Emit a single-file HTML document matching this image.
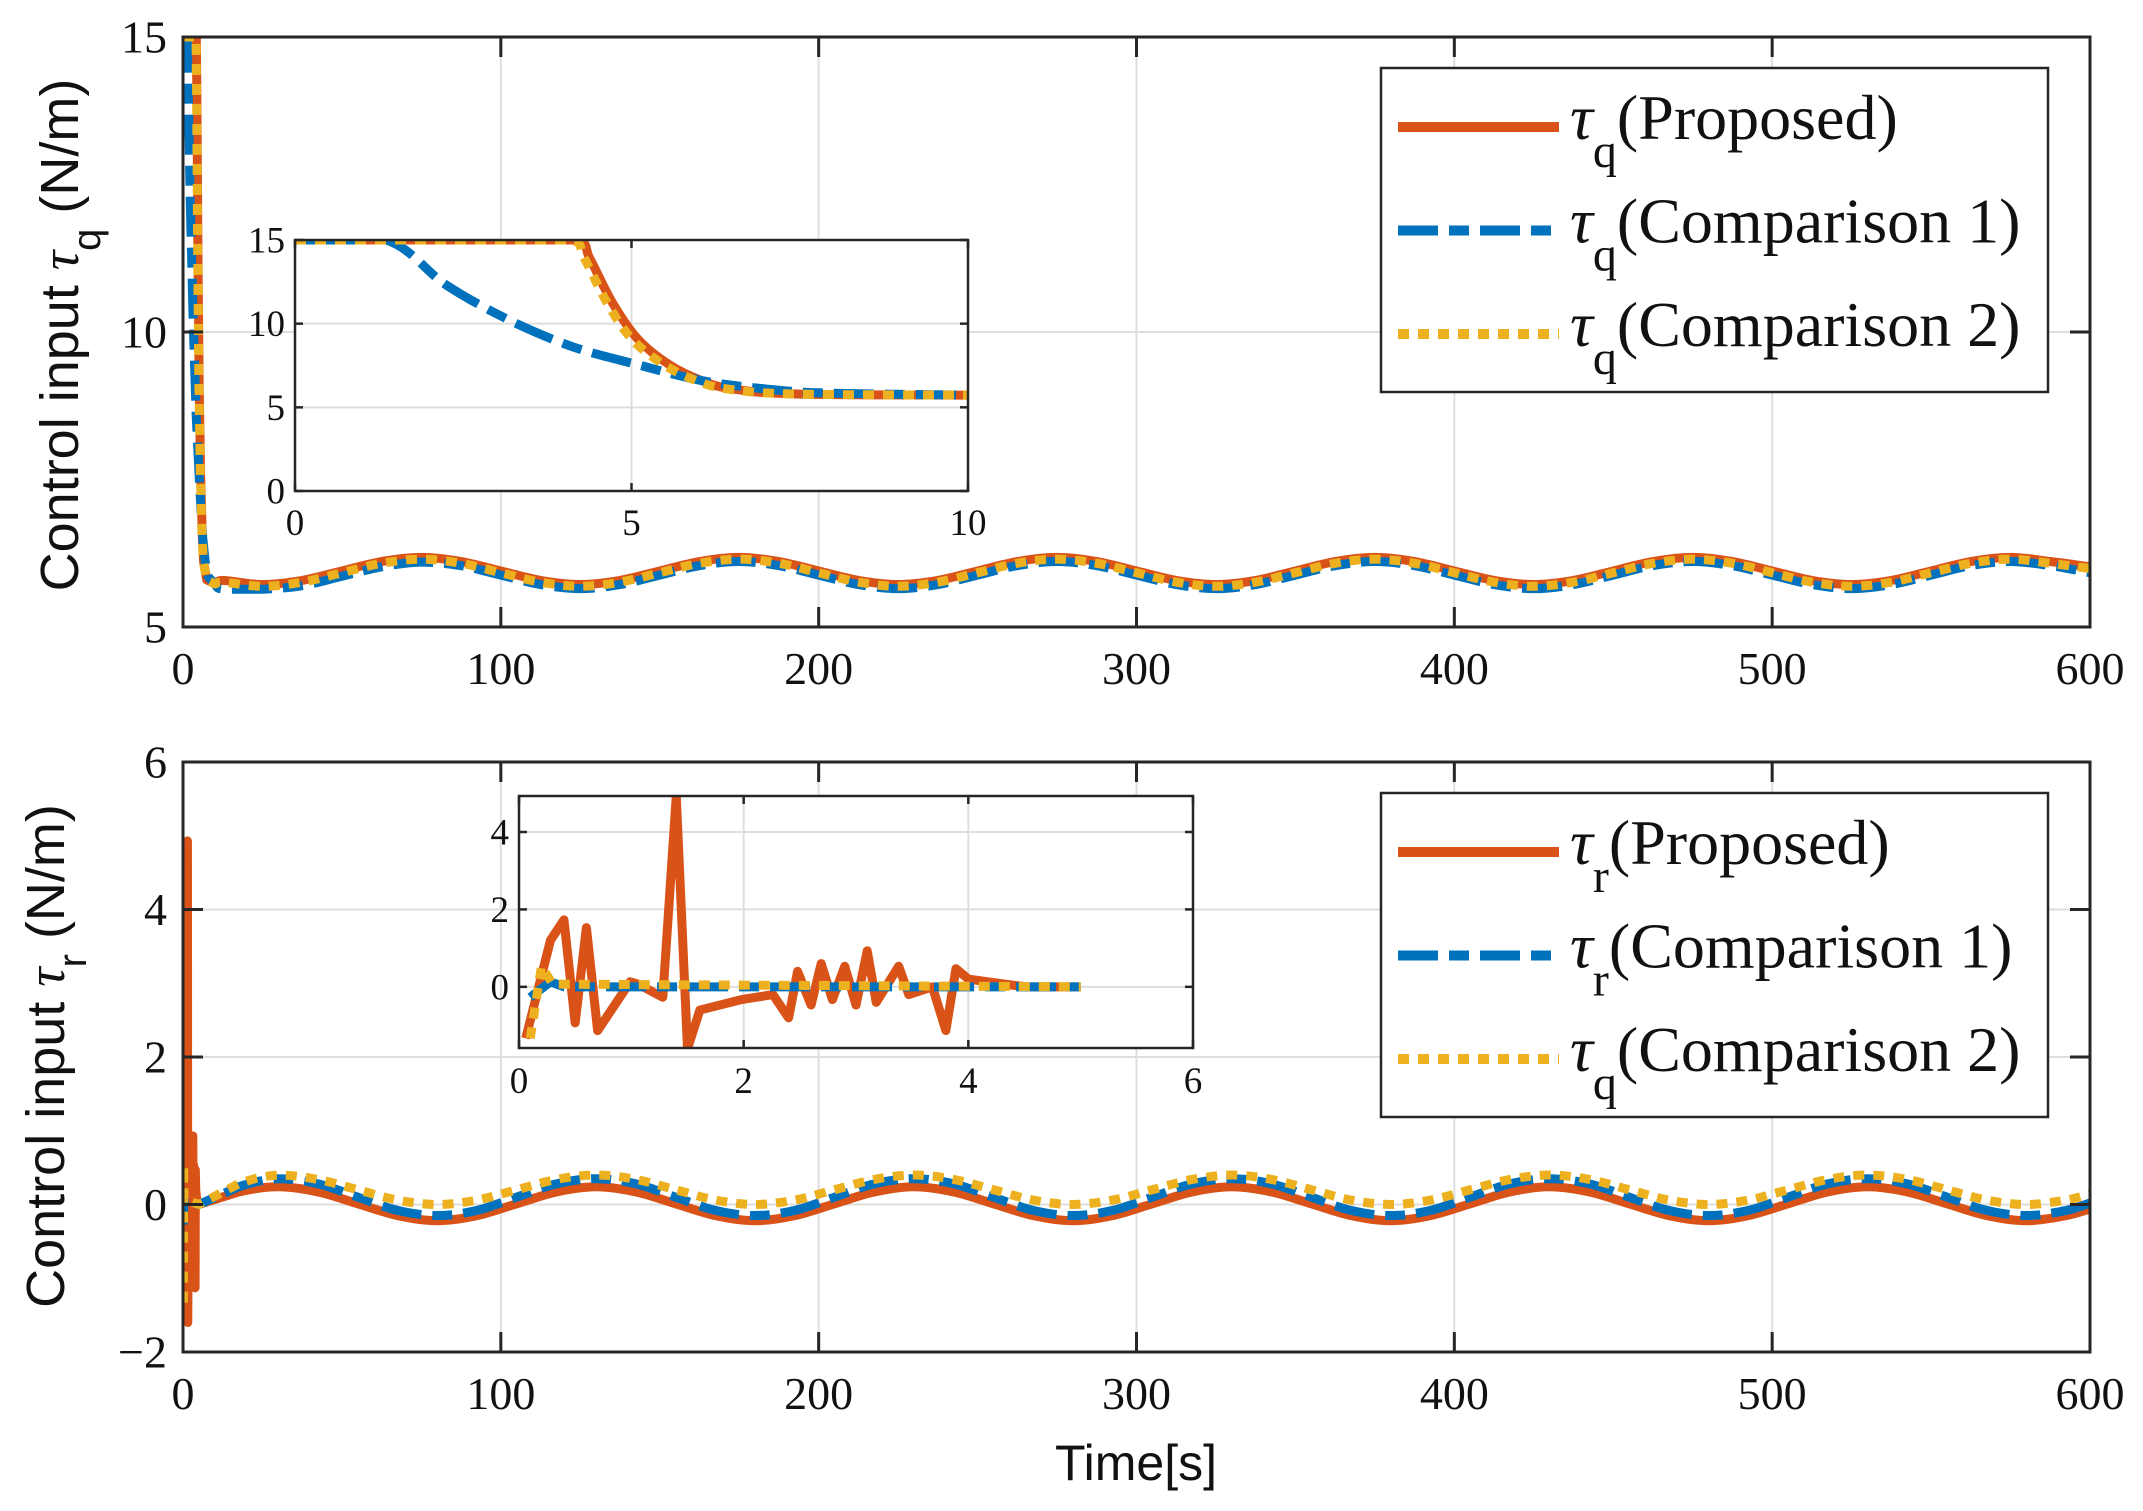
<!DOCTYPE html>
<html><head><meta charset="utf-8"><style>
html,body{margin:0;padding:0;background:#fff;}
svg{display:block;}
</style></head><body>
<svg id="fig" width="2143" height="1511" viewBox="0 0 2143 1511" xmlns="http://www.w3.org/2000/svg">
<defs>
<clipPath id="clipTop"><rect x="183" y="37" width="1907" height="590"/></clipPath>
<clipPath id="clipBot"><rect x="183" y="762" width="1907" height="590"/></clipPath>
<clipPath id="clipTopIn"><rect x="295" y="240" width="673" height="251"/></clipPath>
<clipPath id="clipBotIn"><rect x="519" y="796" width="674" height="252"/></clipPath>
</defs>
<rect width="2143" height="1511" fill="#fff"/>
<g id="root"></g>
</svg>
<script>
// ===== data: top plot (tau_q) =====
const topInT_prop = [0,4.19,4.38,4.71,5.09,5.56,6.04,6.5,7.46,10];
const topInY_prop = [15,15,13.9,11.3,9.1,7.55,6.6,6.1,5.8,5.73];
const topInT_c1 = [0,1.35,2.25,3.19,4.14,5.09,6.04,6.99,7.93,10];
const topInY_c1 = [15,15,12.3,10.2,8.6,7.55,6.6,6.1,5.85,5.73];
const topInT_c2 = [0,4.1,4.3,4.63,5.0,5.48,5.96,6.42,7.4,10];
const topInY_c2 = [15,15,13.9,11.3,9.1,7.55,6.6,6.1,5.8,5.73];
const topTailT = [12.5,25,37.5,50,62.5,75,87.5,100,112.5,125,137.5,150,162.5,175,187.5,200,212.5,225,237.5,250,262.5,275,287.5,300,312.5,325,337.5,350,362.5,375,387.5,400,412.5,425,437.5,450,462.5,475,487.5,500,512.5,525,537.5,550,562.5,575,587.5,600];
const topTail_prop = [5.79,5.72,5.79,5.95,6.11,6.18,6.11,5.95,5.79,5.72,5.79,5.95,6.11,6.18,6.11,5.95,5.79,5.72,5.79,5.95,6.11,6.18,6.11,5.95,5.79,5.72,5.79,5.95,6.11,6.18,6.11,5.95,5.79,5.72,5.79,5.95,6.11,6.18,6.11,5.95,5.79,5.72,5.79,5.95,6.11,6.18,6.11,6.02];
const topTail_c1 = [5.64,5.64,5.70,5.86,6.02,6.10,6.04,5.88,5.72,5.65,5.72,5.88,6.04,6.11,6.04,5.88,5.72,5.65,5.72,5.88,6.04,6.11,6.04,5.88,5.72,5.65,5.72,5.88,6.04,6.11,6.04,5.88,5.72,5.65,5.72,5.88,6.04,6.11,6.04,5.88,5.72,5.65,5.72,5.88,6.04,6.11,6.04,5.92];
const topTail_c2 = [5.76,5.69,5.76,5.92,6.08,6.15,6.08,5.92,5.76,5.69,5.76,5.92,6.08,6.15,6.08,5.92,5.76,5.69,5.76,5.92,6.08,6.15,6.08,5.92,5.76,5.69,5.76,5.92,6.08,6.15,6.08,5.92,5.76,5.69,5.76,5.92,6.08,6.15,6.08,5.92,5.76,5.69,5.76,5.92,6.08,6.15,6.08,5.99];
// ===== data: bottom plot (tau_r) =====
const botInT_prop = [0.06,0.28,0.4,0.5,0.6,0.7,0.99,1.06,1.28,1.4,1.5,1.61,1.98,2.26,2.4,2.48,2.6,2.69,2.79,2.9,3.0,3.1,3.18,3.38,3.47,3.68,3.8,3.89,4.0,4.32,4.52,5.0];
const botInY_prop = [-1.33,1.2,1.73,-0.93,1.53,-1.13,0.13,0.07,-0.27,4.93,-1.6,-0.6,-0.33,-0.2,-0.8,0.4,-0.47,0.6,-0.33,0.53,-0.47,0.93,-0.4,0.53,-0.2,0,-1.13,0.47,0.2,0.07,0,0];
const botInT_c1 = [0.1,0.28,0.4,5.0];
const botInY_c1 = [-0.27,0.13,0,0];
const botInT_c2 = [0.1,0.2,0.3,5.0];
const botInY_c2 = [-1.33,0.53,0.07,0];
const botTailT = [17.5,30,42.5,55,67.5,80,92.5,105,117.5,130,142.5,155,167.5,180,192.5,205,217.5,230,242.5,255,267.5,280,292.5,305,317.5,330,342.5,355,367.5,380,392.5,405,417.5,430,442.5,455,467.5,480,492.5,505,517.5,530,542.5,555,567.5,580,592.5,600];
const botTail_prop = [0.17,0.24,0.17,0.01,-0.15,-0.22,-0.15,0.01,0.17,0.24,0.17,0.01,-0.15,-0.22,-0.15,0.01,0.17,0.24,0.17,0.01,-0.15,-0.22,-0.15,0.01,0.17,0.24,0.17,0.01,-0.15,-0.22,-0.15,0.01,0.17,0.24,0.17,0.01,-0.15,-0.22,-0.15,0.01,0.17,0.24,0.17,0.01,-0.15,-0.22,-0.15,-0.06];
const botTail_c1 = [0.24,0.35,0.28,0.1,-0.08,-0.15,-0.08,0.1,0.28,0.35,0.28,0.1,-0.08,-0.15,-0.08,0.1,0.28,0.35,0.28,0.1,-0.08,-0.15,-0.08,0.1,0.28,0.35,0.28,0.1,-0.08,-0.15,-0.08,0.1,0.28,0.35,0.28,0.1,-0.08,-0.15,-0.08,0.1,0.28,0.35,0.28,0.1,-0.08,-0.15,-0.08,0.02];
const botTail_c2 = [0.28,0.4,0.34,0.2,0.06,0.0,0.06,0.2,0.34,0.4,0.34,0.2,0.06,0.0,0.06,0.2,0.34,0.4,0.34,0.2,0.06,0.0,0.06,0.2,0.34,0.4,0.34,0.2,0.06,0.0,0.06,0.2,0.34,0.4,0.34,0.2,0.06,0.0,0.06,0.2,0.34,0.4,0.34,0.2,0.06,0.0,0.06,0.14];
// ticks
const mainXTicks = [0,100,200,300,400,500,600];
const topYTicks = [5,10,15];
const botYTicks = [-2,0,2,4,6];
const topInXTicks = [0,5,10];
const topInYTicks = [0,5,10,15];
const botInXTicks = [0,2,4,6];
const botInYTicks = [0,2,4];
const topYLabels = ['5','10','15'];
const botYLabels = ['\u22122','0','2','4','6'];

const NS='http://www.w3.org/2000/svg';
const root=document.getElementById('root');
const RED='#D95319', BLUE='#0072BD', YEL='#EDB120';
function mk(tag,attrs,parent){const e=document.createElementNS(NS,tag);for(const k in attrs)e.setAttribute(k,attrs[k]);(parent||root).appendChild(e);return e;}
function scale(d0,d1,r0,r1){return v=>r0+(v-d0)/(d1-d0)*(r1-r0);}
function clampv(v,a,b){const lo=Math.min(a,b),hi=Math.max(a,b);return Math.max(lo,Math.min(hi,v));}
function pathD(xs,ys,sx,sy,smoothFrom){
  const P=xs.map((x,i)=>[sx(x),sy(ys[i])]);
  let d='M'+P[0][0].toFixed(2)+','+P[0][1].toFixed(2);
  for(let i=1;i<P.length;i++){
    if(xs[i-1]<smoothFrom){d+='L'+P[i][0].toFixed(2)+','+P[i][1].toFixed(2);continue;}
    const p0=P[Math.max(0,i-2)],p1=P[i-1],p2=P[i],p3=P[Math.min(P.length-1,i+1)];
    const c1=[clampv(p1[0]+(p2[0]-p0[0])/6,p1[0],p2[0]),clampv(p1[1]+(p2[1]-p0[1])/6,p1[1],p2[1])];
    const c2=[clampv(p2[0]-(p3[0]-p1[0])/6,p1[0],p2[0]),clampv(p2[1]-(p3[1]-p1[1])/6,p1[1],p2[1])];
    d+='C'+c1[0].toFixed(2)+','+c1[1].toFixed(2)+' '+c2[0].toFixed(2)+','+c2[1].toFixed(2)+' '+p2[0].toFixed(2)+','+p2[1].toFixed(2);
  }
  return d;
}
function drawAxes(o){
  const g=mk('g',{});
  
  
  mk('rect',{x:o.x0,y:o.y0,width:o.x1-o.x0,height:o.y1-o.y0,fill:'#fff'},g);
  const sx=scale(o.xd[0],o.xd[1],o.x0,o.x1), sy=scale(o.yd[0],o.yd[1],o.y1,o.y0);
  o.xt.forEach(v=>{const x=sx(v);if(x>o.x0+1&&x<o.x1-1){const l=mk('line',{x1:x,x2:x,y1:o.y0,y2:o.y1,stroke:'#dedede','stroke-width':2},g);}});
  o.yt.forEach(v=>{const y=sy(v);if(y>o.y0+1&&y<o.y1-1){const l=mk('line',{x1:o.x0,x2:o.x1,y1:y,y2:y,stroke:'#dedede','stroke-width':2},g);}});
  const sg=mk('g',{'clip-path':'url(#'+o.clip+')'},g);
  o.series.forEach(s=>{
    const p=mk('path',{d:pathD(s.t,s.y,sx,sy,s.sf),fill:'none',stroke:s.c,'stroke-width':o.lw,'stroke-linejoin':'round','stroke-dasharray':s.dash||'none'},sg);
    
    
  });
  const ax=mk('g',{stroke:'#262626','stroke-width':o.aw,fill:'none'},g);
  o.xt.forEach(v=>{const x=sx(v);mk('line',{x1:x,x2:x,y1:o.y1,y2:o.y1-o.tl},ax);mk('line',{x1:x,x2:x,y1:o.y0,y2:o.y0+o.tl},ax);});
  o.yt.forEach(v=>{const y=sy(v);mk('line',{x1:o.x0,x2:o.x0+o.tl,y1:y,y2:y},ax);mk('line',{x1:o.x1,x2:o.x1-o.tl,y1:y,y2:y},ax);});
  const fr=mk('rect',{x:o.x0,y:o.y0,width:o.x1-o.x0,height:o.y1-o.y0},ax);
  
  
  o.xt.forEach((v,i)=>{const t=mk('text',{x:sx(v),y:o.y1+o.xlOff,'text-anchor':'middle','font-family':'Liberation Serif, serif','font-size':o.fs,fill:'#111'},g);t.textContent=o.xl?o.xl[i]:String(v);});
  o.yt.forEach((v,i)=>{const t=mk('text',{x:o.x0-o.ylOff,y:sy(v)+o.fs*0.34,'text-anchor':'end','font-family':'Liberation Serif, serif','font-size':o.fs,fill:'#111'},g);t.textContent=o.yl?o.yl[i]:String(v);});
}
const DASH_C1='40 11 20 11', DOT_C2='11 9';
drawAxes({name:'top-axes',x0:183,x1:2090,y0:37,y1:627,xd:[0,600],yd:[5,15],xt:mainXTicks,yt:topYTicks,yl:topYLabels,clip:'clipTop',lw:9,aw:3,tl:20,fs:46,xlOff:57,ylOff:16,
 series:[
  {name:'tau-q-proposed-line',c:RED,sf:10,t:topInT_prop.concat(topTailT),y:topInY_prop.concat(topTail_prop)},
  {name:'tau-q-comparison1-line',c:BLUE,sf:10,dash:DASH_C1,t:topInT_c1.concat(topTailT),y:topInY_c1.concat(topTail_c1)},
  {name:'tau-q-comparison2-line',c:YEL,sf:10,dash:DOT_C2,t:topInT_c2.concat(topTailT),y:topInY_c2.concat(topTail_c2)}]});
drawAxes({name:'top-inset-axes',x0:295,x1:968,y0:240,y1:491,xd:[0,10],yd:[0,15],xt:topInXTicks,yt:topInYTicks,clip:'clipTopIn',lw:9,aw:2.5,tl:8,fs:37,xlOff:44,ylOff:10,
 series:[
  {name:'inset-tau-q-proposed-line',c:RED,sf:1,t:topInT_prop,y:topInY_prop},
  {name:'inset-tau-q-comparison1-line',c:BLUE,sf:1,dash:DASH_C1,t:topInT_c1,y:topInY_c1},
  {name:'inset-tau-q-comparison2-line',c:YEL,sf:1,dash:DOT_C2,t:topInT_c2,y:topInY_c2}]});
drawAxes({name:'bottom-axes',x0:183,x1:2090,y0:762,y1:1352,xd:[0,600],yd:[-2,6],xt:mainXTicks,yt:botYTicks,yl:botYLabels,clip:'clipBot',lw:9,aw:3,tl:20,fs:46,xlOff:57,ylOff:16,
 series:[
  {name:'tau-r-proposed-line',c:RED,sf:10,t:botInT_prop.concat(botTailT),y:botInY_prop.concat(botTail_prop)},
  {name:'tau-r-comparison1-line',c:BLUE,sf:10,dash:DASH_C1,t:botInT_c1.concat(botTailT),y:botInY_c1.concat(botTail_c1)},
  {name:'tau-r-comparison2-line',c:YEL,sf:10,dash:DOT_C2,t:botInT_c2.concat(botTailT),y:botInY_c2.concat(botTail_c2)}]});
drawAxes({name:'bottom-inset-axes',x0:519,x1:1193,y0:796,y1:1048,xd:[0,6],yd:[-1.58,4.93],xt:botInXTicks,yt:botInYTicks,clip:'clipBotIn',lw:9,aw:2.5,tl:8,fs:37,xlOff:45,ylOff:10,
 series:[
  {name:'inset-tau-r-proposed-line',c:RED,sf:99,t:botInT_prop,y:botInY_prop},
  {name:'inset-tau-r-comparison1-line',c:BLUE,sf:99,dash:DASH_C1,t:botInT_c1,y:botInY_c1},
  {name:'inset-tau-r-comparison2-line',c:YEL,sf:99,dash:DOT_C2,t:botInT_c2,y:botInY_c2}]});

function legend(name,y0,entries){
  const g=mk('g',{});
  
  
  mk('rect',{x:1381,y:y0,width:667,height:324,fill:'#fff',stroke:'#262626','stroke-width':2.5},g);
  entries.forEach((e,i)=>{
    const ly=y0+59+i*103.5;
    const l=mk('line',{x1:1398,x2:1559,y1:ly,y2:ly,stroke:e.c,'stroke-width':10,'stroke-dasharray':e.dash||'none'},g);
    
    
    const t=mk('text',{x:1570,y:ly+12,'font-family':'Liberation Serif, serif','font-size':64,fill:'#111'},g);
    
    
    const a=mk('tspan',{'font-style':'italic'},t);a.textContent='\u03C4';
    const b=mk('tspan',{dy:28,'font-size':48},t);b.textContent=e.sub;
    const c=mk('tspan',{dy:-28},t);c.textContent=e.label;
  });
}
legend('top-legend',68,[{c:RED,sub:'q',label:'(Proposed)'},{c:BLUE,dash:DASH_C1,sub:'q',label:'(Comparison 1)'},{c:YEL,dash:DOT_C2,sub:'q',label:'(Comparison 2)'}]);
legend('bottom-legend',793,[{c:RED,sub:'r',label:'(Proposed)'},{c:BLUE,dash:DASH_C1,sub:'r',label:'(Comparison 1)'},{c:YEL,dash:DOT_C2,sub:'q',label:'(Comparison 2)'}]);

function ytitle(name,x,y,sub){
  const t=mk('text',{x:0,y:0,transform:'translate('+x+','+y+') rotate(-90)','text-anchor':'middle','font-family':'Liberation Sans, sans-serif','font-size':54,fill:'#111'});
  
  
  const a=mk('tspan',{},t);a.textContent='Control input ';
  const b=mk('tspan',{'font-family':'Liberation Serif, serif','font-style':'italic'},t);b.textContent='\u03C4';
  const c=mk('tspan',{dy:22,'font-size':40},t);c.textContent=sub;
  const d=mk('tspan',{dy:-22},t);d.textContent='  (N/m)';
}
ytitle('top-y-axis-title',78,335,'q');
ytitle('bottom-y-axis-title',64,1056,'r');
const xt=mk('text',{x:1136,y:1480,'text-anchor':'middle','font-family':'Liberation Sans, sans-serif','font-size':50,fill:'#111'});


xt.textContent='Time[s]';
</script>
</body></html>
